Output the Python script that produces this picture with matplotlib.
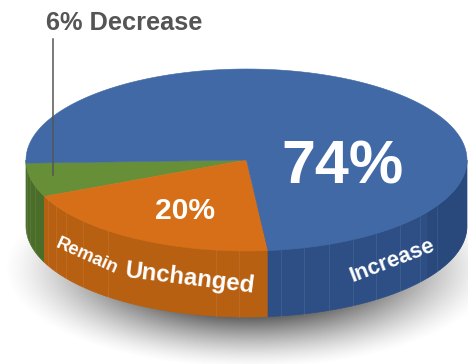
import numpy as np
import matplotlib
matplotlib.use('Agg')
import matplotlib.pyplot as plt
from matplotlib.patches import Polygon

plt.rcParams['font.family'] = ['Liberation Sans', 'DejaVu Sans']

categories = ['Decrease', 'Remain Unchanged', 'Increase']
shares = [6, 20, 74]
top_colors = ['#678F38', '#D66F17', '#4069A6']
side_colors = ['#4A6E2A', '#B86011', '#2D4F85']

cx, cy = 246.5, 160
rx, ry = 220.5, 91
depth = 66

fig = plt.figure(figsize=(4.68, 3.64), dpi=100)
ax = fig.add_axes([0, 0, 1, 1])
ax.set_xlim(0, 468)
ax.set_ylim(364, 0)
ax.axis('off')


def rim(angles):
    # angle in degrees, measured ccw on the circle, y axis points down
    t = np.radians(angles)
    return cx + rx * np.cos(t), cy - ry * np.sin(t)


# soft shadow under the pie
yy, xx = np.mgrid[0:364, 0:468]
d = np.sqrt(((xx - 250) / 247.0) ** 2 + ((yy - 268) / 100.0) ** 2)
fade = np.clip((1.0 - d) / 0.5, 0, 1)
shadow = np.zeros((364, 468, 4))
shadow[..., :3] = 0.25
shadow[..., 3] = 0.8 * fade ** 1.4
ax.imshow(shadow, extent=(0, 468, 364, 0), zorder=1, interpolation='bilinear', aspect='auto')
ax.set_xlim(0, 468)
ax.set_ylim(364, 0)

# slices start just past the left edge and go round through the bottom
start = 182.0
for i, (share, top, side) in enumerate(zip(shares, top_colors, side_colors)):
    stop = start + share * 3.6
    a = np.linspace(start, stop, 200)
    x, y = rim(a)

    # wall, only the front half of the pie shows
    vis = a[(a >= 180) & (a <= 360)]
    if i == 0:
        vis = np.r_[180.0, vis]
    vx, vy = rim(vis)
    wall = np.column_stack([np.r_[vx, vx[::-1]], np.r_[vy, vy[::-1] + depth]])
    ax.add_patch(Polygon(wall, closed=True, fc=side, ec=side, lw=0.5, zorder=2))

    face = np.column_stack([np.r_[cx, x], np.r_[cy, y]])
    ax.add_patch(Polygon(face, closed=True, fc=top, ec=top, lw=0.4, zorder=4))
    start = stop

# darker right end of the wall
a = np.linspace(325, 360, 60)
vx, vy = rim(a)
wall = np.column_stack([np.r_[vx, vx[::-1]], np.r_[vy, vy[::-1] + depth]])
ax.add_patch(Polygon(wall, closed=True, fc='#29487A', ec='none', alpha=0.8, zorder=2.5))

# faint facet lines on the wall
for ang in [186, 191, 196, 206, 210, 215, 222, 231, 262, 268, 279, 285, 292, 299, 306, 314, 322, 330]:
    lx, ly = rim(ang)
    ax.plot([lx, lx], [ly, ly + depth], color='white', alpha=0.08, lw=0.7, zorder=3)

# leader line and labels
ax.plot([52.5, 52.5], [39, 175], color='#555555', lw=1.1, zorder=5)
ax.text(46, 30.5, '6% Decrease', color='#555555', fontsize=18.3, fontweight='bold', ha='left', va='baseline', zorder=6)
ax.text(343, 183, '74%', color='white', fontsize=44, fontweight='bold', ha='center', va='baseline', zorder=6)
ax.text(185, 219, '20%', color='white', fontsize=21.6, fontweight='bold', ha='center', va='baseline', zorder=6)

ax.text(55, 247, 'Remain', color='white', fontsize=13.2, fontweight='bold', rotation=-24,
        rotation_mode='anchor', ha='left', va='baseline', zorder=6)
ax.text(124, 277, 'Unchanged', color='white', fontsize=17.3, fontweight='bold', rotation=-7,
        rotation_mode='anchor', ha='left', va='baseline', zorder=6)
ax.text(352, 282, 'Increase', color='white', fontsize=15.8, fontweight='bold', rotation=21,
        rotation_mode='anchor', ha='left', va='baseline', zorder=6)

fig.savefig('out.png', dpi=100)
